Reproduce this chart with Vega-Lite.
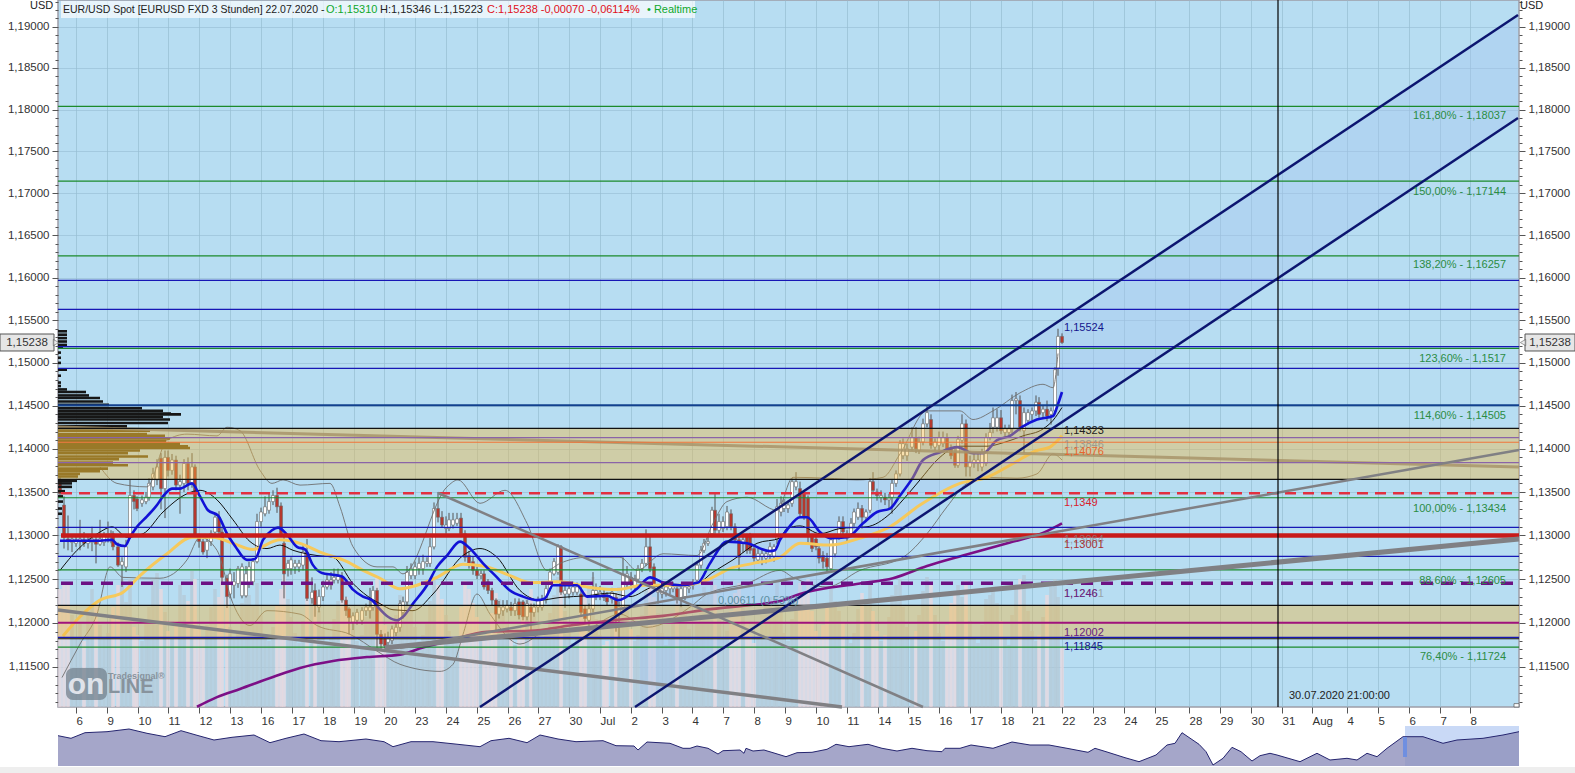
{"$schema":"https://vega.github.io/schema/vega-lite/v6.json","width":1461,"height":707,"autosize":"none","padding":{"left":58,"top":0,"right":56,"bottom":66},"background":"#ffffff",
"config":{"view":{"fill":"#b7ddf2","stroke":"#9d9da8","strokeWidth":1.5},"axis":{"labelFont":"Liberation Sans","labelFontSize":11.5,"labelColor":"#333333","tickColor":"#555555","domainColor":"#9d9da8","title":null},"text":{"font":"Liberation Sans","fontSize":11}},
"datasets":{
"candles":[
{"x":60,"o":1.1364,"h":1.1368,"l":1.1345,"c":1.1348,"v":118},{"x":64,"o":1.1335,"h":1.1345,"l":1.1285,"c":1.1298,"v":124},{"x":68,"o":1.1296,"h":1.1323,"l":1.1283,"c":1.1293,"v":122},{"x":72,"o":1.1292,"h":1.1298,"l":1.1281,"c":1.1296,"v":92},{"x":76,"o":1.1291,"h":1.13,"l":1.1287,"c":1.1295,"v":70},{"x":80,"o":1.1293,"h":1.1318,"l":1.1283,"c":1.1296,"v":85},{"x":84,"o":1.1295,"h":1.1304,"l":1.1287,"c":1.1291,"v":66},{"x":88,"o":1.1291,"h":1.13,"l":1.1285,"c":1.1295,"v":96},{"x":92,"o":1.1292,"h":1.131,"l":1.1282,"c":1.1296,"v":118},{"x":96,"o":1.1295,"h":1.13,"l":1.1268,"c":1.129,"v":104},{"x":100,"o":1.129,"h":1.1318,"l":1.1288,"c":1.1296,"v":82},{"x":104,"o":1.1292,"h":1.1304,"l":1.1288,"c":1.13,"v":68},{"x":108,"o":1.1298,"h":1.1316,"l":1.1292,"c":1.1302,"v":74},{"x":111,"o":1.13,"h":1.1306,"l":1.1291,"c":1.1302,"v":90},
{"x":113,"o":1.1302,"h":1.1305,"l":1.1283,"c":1.1287,"v":100},{"x":118,"o":1.1287,"h":1.1292,"l":1.1264,"c":1.1266,"v":122},{"x":122,"o":1.1266,"h":1.1275,"l":1.1241,"c":1.127,"v":128},{"x":126,"o":1.1264,"h":1.1295,"l":1.1258,"c":1.1287,"v":105},{"x":130,"o":1.1298,"h":1.1364,"l":1.1296,"c":1.1346,"v":128},{"x":134,"o":1.1346,"h":1.1352,"l":1.133,"c":1.1339,"v":80},{"x":137,"o":1.1342,"h":1.1345,"l":1.1328,"c":1.1331,"v":72},{"x":142,"o":1.1337,"h":1.1346,"l":1.1333,"c":1.1341,"v":66},{"x":146,"o":1.1339,"h":1.135,"l":1.1336,"c":1.1344,"v":84},{"x":149,"o":1.1344,"h":1.1366,"l":1.134,"c":1.136,"v":100},{"x":153,"o":1.1356,"h":1.1378,"l":1.1352,"c":1.1371,"v":128},{"x":157,"o":1.1364,"h":1.1388,"l":1.1358,"c":1.1379,"v":134},{"x":161,"o":1.1389,"h":1.1395,"l":1.133,"c":1.1354,"v":118},{"x":165,"o":1.1354,"h":1.1398,"l":1.132,"c":1.139,"v":95},{"x":168,"o":1.139,"h":1.1398,"l":1.1368,"c":1.1375,"v":76},{"x":172,"o":1.1375,"h":1.1394,"l":1.137,"c":1.1387,"v":68},{"x":176,"o":1.1387,"h":1.1392,"l":1.1352,"c":1.1358,"v":86},{"x":180,"o":1.1358,"h":1.137,"l":1.1325,"c":1.1362,"v":122},{"x":184,"o":1.136,"h":1.1388,"l":1.135,"c":1.1383,"v":112},{"x":188,"o":1.1383,"h":1.139,"l":1.1352,"c":1.136,"v":106},{"x":192,"o":1.136,"h":1.1395,"l":1.1355,"c":1.1379,"v":136},{"x":195,"o":1.1379,"h":1.1382,"l":1.1298,"c":1.13,"v":128},{"x":199,"o":1.1298,"h":1.1302,"l":1.1286,"c":1.1293,"v":78},{"x":203,"o":1.1293,"h":1.1296,"l":1.1278,"c":1.1281,"v":70},{"x":207,"o":1.1283,"h":1.1296,"l":1.1274,"c":1.1293,"v":82},{"x":211,"o":1.1293,"h":1.1306,"l":1.1288,"c":1.1302,"v":100},{"x":215,"o":1.1304,"h":1.1325,"l":1.1302,"c":1.1321,"v":118},{"x":219,"o":1.1321,"h":1.1328,"l":1.13,"c":1.1304,"v":110},{"x":222,"o":1.1304,"h":1.131,"l":1.1246,"c":1.1252,"v":130},{"x":227,"o":1.1251,"h":1.1255,"l":1.1217,"c":1.123,"v":126},{"x":230,"o":1.1233,"h":1.1262,"l":1.1228,"c":1.1256,"v":80},{"x":234,"o":1.1243,"h":1.1258,"l":1.1228,"c":1.1247,"v":68},{"x":238,"o":1.1245,"h":1.1265,"l":1.124,"c":1.1262,"v":74},{"x":242,"o":1.1231,"h":1.1268,"l":1.1228,"c":1.1264,"v":104},{"x":246,"o":1.1231,"h":1.1265,"l":1.1229,"c":1.1256,"v":120},{"x":249,"o":1.1245,"h":1.127,"l":1.124,"c":1.1264,"v":112},{"x":253,"o":1.1247,"h":1.1274,"l":1.1243,"c":1.127,"v":102},{"x":257,"o":1.127,"h":1.1325,"l":1.1268,"c":1.1316,"v":124},{"x":261,"o":1.1316,"h":1.1332,"l":1.131,"c":1.1327,"v":92},{"x":265,"o":1.1325,"h":1.1345,"l":1.1322,"c":1.1333,"v":72},{"x":269,"o":1.1329,"h":1.1348,"l":1.1325,"c":1.1339,"v":66},{"x":273,"o":1.1339,"h":1.1352,"l":1.1335,"c":1.1346,"v":80},{"x":277,"o":1.1346,"h":1.1355,"l":1.1326,"c":1.1333,"v":102},{"x":281,"o":1.1334,"h":1.1338,"l":1.13,"c":1.1302,"v":118},{"x":284,"o":1.1291,"h":1.13,"l":1.1228,"c":1.1256,"v":132},{"x":288,"o":1.1262,"h":1.1272,"l":1.1253,"c":1.1268,"v":108},{"x":291,"o":1.1262,"h":1.1275,"l":1.1255,"c":1.1272,"v":90},{"x":295,"o":1.1264,"h":1.1272,"l":1.1256,"c":1.1268,"v":74},{"x":299,"o":1.1264,"h":1.1272,"l":1.1258,"c":1.1268,"v":64},{"x":303,"o":1.1266,"h":1.129,"l":1.126,"c":1.1281,"v":86},{"x":307,"o":1.1281,"h":1.1296,"l":1.1225,"c":1.1228,"v":126},{"x":312,"o":1.1228,"h":1.1252,"l":1.1222,"c":1.1235,"v":112},{"x":315,"o":1.1237,"h":1.1245,"l":1.1207,"c":1.122,"v":104},{"x":319,"o":1.1218,"h":1.1238,"l":1.1212,"c":1.123,"v":96},{"x":323,"o":1.123,"h":1.1248,"l":1.1225,"c":1.1241,"v":78},{"x":327,"o":1.1241,"h":1.1255,"l":1.1238,"c":1.1249,"v":66},{"x":331,"o":1.1243,"h":1.1258,"l":1.1238,"c":1.1249,"v":70},{"x":334,"o":1.1249,"h":1.1262,"l":1.1245,"c":1.1252,"v":88},{"x":338,"o":1.1249,"h":1.1262,"l":1.1245,"c":1.1253,"v":106},{"x":342,"o":1.1253,"h":1.1258,"l":1.1223,"c":1.1226,"v":124},{"x":346,"o":1.1226,"h":1.123,"l":1.1208,"c":1.1214,"v":110},{"x":349,"o":1.1216,"h":1.1218,"l":1.1187,"c":1.1206,"v":100},{"x":353,"o":1.1201,"h":1.1212,"l":1.1192,"c":1.1208,"v":78},{"x":357,"o":1.1203,"h":1.1216,"l":1.1198,"c":1.1212,"v":66},{"x":362,"o":1.1203,"h":1.1218,"l":1.1198,"c":1.1214,"v":72},{"x":366,"o":1.1214,"h":1.1222,"l":1.1208,"c":1.1218,"v":90},{"x":370,"o":1.1214,"h":1.124,"l":1.1205,"c":1.1218,"v":110},{"x":373,"o":1.1218,"h":1.1242,"l":1.1214,"c":1.1237,"v":116},{"x":377,"o":1.1237,"h":1.124,"l":1.117,"c":1.1187,"v":130},{"x":381,"o":1.1187,"h":1.1192,"l":1.117,"c":1.1176,"v":104},{"x":385,"o":1.1182,"h":1.1188,"l":1.117,"c":1.1174,"v":82},{"x":388,"o":1.1178,"h":1.119,"l":1.1172,"c":1.1182,"v":68},{"x":392,"o":1.118,"h":1.1197,"l":1.1176,"c":1.1193,"v":74},{"x":396,"o":1.1189,"h":1.12,"l":1.1185,"c":1.1195,"v":92},{"x":400,"o":1.1195,"h":1.1226,"l":1.119,"c":1.1222,"v":112},
{"x":403,"o":1.1212,"h":1.123,"l":1.1205,"c":1.1224,"v":106},{"x":407,"o":1.1224,"h":1.1265,"l":1.122,"c":1.1258,"v":120},{"x":411,"o":1.1254,"h":1.1268,"l":1.125,"c":1.1262,"v":96},{"x":415,"o":1.1254,"h":1.127,"l":1.125,"c":1.1264,"v":80},{"x":419,"o":1.1262,"h":1.1275,"l":1.1255,"c":1.1268,"v":66},{"x":423,"o":1.1262,"h":1.1278,"l":1.1255,"c":1.127,"v":72},{"x":427,"o":1.1268,"h":1.1275,"l":1.1264,"c":1.127,"v":84},{"x":430,"o":1.1268,"h":1.1297,"l":1.1264,"c":1.1287,"v":106},{"x":434,"o":1.1287,"h":1.1338,"l":1.1284,"c":1.1331,"v":130},{"x":438,"o":1.1331,"h":1.135,"l":1.1315,"c":1.1321,"v":122},{"x":442,"o":1.1321,"h":1.1328,"l":1.1309,"c":1.1312,"v":108},{"x":446,"o":1.1308,"h":1.1322,"l":1.1302,"c":1.1312,"v":92},{"x":449,"o":1.1308,"h":1.1326,"l":1.1305,"c":1.1318,"v":76},{"x":453,"o":1.1312,"h":1.1326,"l":1.1308,"c":1.1318,"v":64},{"x":457,"o":1.1314,"h":1.1326,"l":1.1311,"c":1.1319,"v":70},{"x":461,"o":1.132,"h":1.1326,"l":1.1298,"c":1.1302,"v":100},{"x":465,"o":1.1302,"h":1.1306,"l":1.127,"c":1.1275,"v":126},{"x":469,"o":1.1277,"h":1.1282,"l":1.1262,"c":1.1268,"v":118},{"x":473,"o":1.127,"h":1.1276,"l":1.1255,"c":1.126,"v":104},{"x":477,"o":1.126,"h":1.1264,"l":1.125,"c":1.1254,"v":90},{"x":481,"o":1.1254,"h":1.126,"l":1.125,"c":1.1256,"v":72},{"x":484,"o":1.1256,"h":1.126,"l":1.1238,"c":1.1241,"v":66},{"x":488,"o":1.1247,"h":1.125,"l":1.1233,"c":1.1237,"v":74},{"x":492,"o":1.1237,"h":1.124,"l":1.122,"c":1.1226,"v":94},{"x":496,"o":1.1226,"h":1.1228,"l":1.119,"c":1.121,"v":114},{"x":499,"o":1.121,"h":1.1225,"l":1.1205,"c":1.1218,"v":108},{"x":503,"o":1.1214,"h":1.1226,"l":1.1208,"c":1.1218,"v":96},{"x":507,"o":1.1216,"h":1.1226,"l":1.1212,"c":1.122,"v":84},{"x":511,"o":1.1218,"h":1.1224,"l":1.1208,"c":1.1214,"v":68},{"x":515,"o":1.1214,"h":1.1228,"l":1.1208,"c":1.1222,"v":62},{"x":519,"o":1.1224,"h":1.1228,"l":1.1204,"c":1.1209,"v":72},{"x":523,"o":1.1224,"h":1.1226,"l":1.1203,"c":1.1207,"v":92},{"x":527,"o":1.1207,"h":1.1226,"l":1.1203,"c":1.1222,"v":108},{"x":531,"o":1.1218,"h":1.1222,"l":1.119,"c":1.1212,"v":118},{"x":534,"o":1.1212,"h":1.1222,"l":1.1207,"c":1.1218,"v":100},{"x":538,"o":1.1218,"h":1.123,"l":1.1212,"c":1.1226,"v":86},{"x":542,"o":1.1218,"h":1.1232,"l":1.1214,"c":1.1226,"v":70},{"x":546,"o":1.1226,"h":1.1243,"l":1.1222,"c":1.1239,"v":76},{"x":550,"o":1.1239,"h":1.1262,"l":1.1236,"c":1.1258,"v":94},{"x":554,"o":1.1256,"h":1.1274,"l":1.1254,"c":1.127,"v":112},{"x":558,"o":1.1258,"h":1.129,"l":1.1255,"c":1.1287,"v":130},{"x":561,"o":1.1287,"h":1.1289,"l":1.1232,"c":1.1235,"v":126},{"x":565,"o":1.1233,"h":1.1245,"l":1.1217,"c":1.1237,"v":96},{"x":569,"o":1.1233,"h":1.1245,"l":1.1228,"c":1.1239,"v":76},{"x":573,"o":1.1235,"h":1.1247,"l":1.1231,"c":1.1241,"v":64},{"x":577,"o":1.1235,"h":1.1246,"l":1.1232,"c":1.1241,"v":70},{"x":581,"o":1.1233,"h":1.1242,"l":1.1209,"c":1.1212,"v":108},{"x":585,"o":1.1216,"h":1.122,"l":1.1199,"c":1.1205,"v":116},{"x":589,"o":1.1203,"h":1.1222,"l":1.119,"c":1.1216,"v":122},{"x":593,"o":1.1216,"h":1.1258,"l":1.1212,"c":1.1237,"v":130},{"x":596,"o":1.1233,"h":1.1245,"l":1.1226,"c":1.1237,"v":88},{"x":600,"o":1.1231,"h":1.1242,"l":1.1226,"c":1.1235,"v":72},{"x":604,"o":1.1233,"h":1.1238,"l":1.1225,"c":1.1229,"v":62},{"x":607,"o":1.1229,"h":1.1235,"l":1.122,"c":1.1224,"v":66},{"x":612,"o":1.1227,"h":1.124,"l":1.1222,"c":1.1235,"v":90},{"x":616,"o":1.1229,"h":1.1234,"l":1.119,"c":1.1209,"v":114},{"x":619,"o":1.1211,"h":1.1224,"l":1.1184,"c":1.1218,"v":120},{"x":623,"o":1.1218,"h":1.1275,"l":1.1215,"c":1.1256,"v":128},{"x":627,"o":1.1245,"h":1.1265,"l":1.124,"c":1.1256,"v":96},{"x":631,"o":1.1252,"h":1.1258,"l":1.1238,"c":1.1245,"v":78},{"x":635,"o":1.1241,"h":1.1255,"l":1.1236,"c":1.125,"v":66},{"x":638,"o":1.125,"h":1.1266,"l":1.1246,"c":1.1262,"v":72},{"x":642,"o":1.1262,"h":1.1273,"l":1.1258,"c":1.1268,"v":92},{"x":646,"o":1.1268,"h":1.1307,"l":1.1265,"c":1.1287,"v":118},{"x":650,"o":1.1287,"h":1.13,"l":1.1258,"c":1.1262,"v":124},{"x":654,"o":1.1264,"h":1.1268,"l":1.1238,"c":1.1243,"v":110},{"x":658,"o":1.1235,"h":1.1243,"l":1.1222,"c":1.1239,"v":94},{"x":662,"o":1.1233,"h":1.1244,"l":1.1228,"c":1.1239,"v":74},{"x":666,"o":1.1237,"h":1.1245,"l":1.123,"c":1.1241,"v":62},{"x":670,"o":1.1239,"h":1.1247,"l":1.1233,"c":1.1243,"v":68},{"x":673,"o":1.1239,"h":1.1247,"l":1.1235,"c":1.1241,"v":86},{"x":677,"o":1.1239,"h":1.1243,"l":1.1222,"c":1.1227,"v":108},{"x":681,"o":1.1227,"h":1.1243,"l":1.1218,"c":1.1239,"v":112},{"x":685,"o":1.123,"h":1.1245,"l":1.1226,"c":1.1241,"v":98},{"x":689,"o":1.1239,"h":1.1246,"l":1.1234,"c":1.1241,"v":78},{"x":693,"o":1.1243,"h":1.125,"l":1.1238,"c":1.1245,"v":66},{"x":697,"o":1.1249,"h":1.127,"l":1.1245,"c":1.1266,"v":84},{"x":701,"o":1.1266,"h":1.1288,"l":1.1262,"c":1.1283,"v":106},{"x":704,"o":1.1283,"h":1.1296,"l":1.128,"c":1.1291,"v":120},{"x":708,"o":1.1291,"h":1.13,"l":1.1288,"c":1.1293,"v":112},{"x":712,"o":1.1302,"h":1.1333,"l":1.1298,"c":1.1329,"v":128},{"x":715,"o":1.1329,"h":1.1348,"l":1.1302,"c":1.1306,"v":122},{"x":719,"o":1.1306,"h":1.1325,"l":1.1302,"c":1.1316,"v":88},{"x":723,"o":1.1308,"h":1.1322,"l":1.1304,"c":1.1316,"v":70},{"x":727,"o":1.131,"h":1.1334,"l":1.1306,"c":1.1327,"v":76},{"x":731,"o":1.1325,"h":1.133,"l":1.1306,"c":1.131,"v":96},{"x":735,"o":1.131,"h":1.1314,"l":1.1292,"c":1.1295,"v":114},{"x":739,"o":1.1295,"h":1.13,"l":1.126,"c":1.1275,"v":124},{"x":743,"o":1.1291,"h":1.13,"l":1.128,"c":1.1295,"v":100},{"x":747,"o":1.1299,"h":1.1302,"l":1.1279,"c":1.1283,"v":86},{"x":750,"o":1.1299,"h":1.1303,"l":1.1279,"c":1.1283,"v":72},{"x":754,"o":1.1285,"h":1.1288,"l":1.127,"c":1.1274,"v":64},{"x":758,"o":1.1272,"h":1.1285,"l":1.1268,"c":1.1279,"v":70},{"x":762,"o":1.1276,"h":1.1285,"l":1.1266,"c":1.1279,"v":92},{"x":766,"o":1.1274,"h":1.1284,"l":1.1268,"c":1.1279,"v":104},{"x":770,"o":1.1278,"h":1.1292,"l":1.1272,"c":1.1287,"v":110},{"x":774,"o":1.1276,"h":1.129,"l":1.127,"c":1.1287,"v":96},{"x":777,"o":1.1296,"h":1.1342,"l":1.129,"c":1.1333,"v":126},
{"x":781,"o":1.1327,"h":1.1345,"l":1.1322,"c":1.1337,"v":98},{"x":784,"o":1.1331,"h":1.1342,"l":1.1327,"c":1.1335,"v":74},{"x":788,"o":1.1331,"h":1.134,"l":1.1326,"c":1.1335,"v":66},{"x":792,"o":1.1337,"h":1.1366,"l":1.1333,"c":1.1362,"v":88},{"x":796,"o":1.1356,"h":1.1373,"l":1.1352,"c":1.1362,"v":110},{"x":800,"o":1.1354,"h":1.1362,"l":1.132,"c":1.1325,"v":124},{"x":804,"o":1.1348,"h":1.1352,"l":1.1318,"c":1.1321,"v":112},{"x":808,"o":1.1343,"h":1.1346,"l":1.129,"c":1.1302,"v":128},{"x":812,"o":1.1298,"h":1.1302,"l":1.1281,"c":1.1285,"v":96},{"x":816,"o":1.1296,"h":1.13,"l":1.1283,"c":1.1287,"v":76},{"x":819,"o":1.1285,"h":1.1289,"l":1.1268,"c":1.1274,"v":68},{"x":823,"o":1.1277,"h":1.1282,"l":1.1262,"c":1.127,"v":82},{"x":827,"o":1.1274,"h":1.128,"l":1.1258,"c":1.1264,"v":104},{"x":831,"o":1.1262,"h":1.1298,"l":1.1258,"c":1.1295,"v":118},{"x":835,"o":1.1279,"h":1.1302,"l":1.1275,"c":1.1298,"v":106},{"x":839,"o":1.1298,"h":1.1322,"l":1.1295,"c":1.1316,"v":96},{"x":843,"o":1.1316,"h":1.1322,"l":1.13,"c":1.1304,"v":84},{"x":847,"o":1.1297,"h":1.1306,"l":1.1292,"c":1.1302,"v":68},{"x":851,"o":1.1302,"h":1.132,"l":1.1298,"c":1.1314,"v":64},{"x":854,"o":1.1314,"h":1.1331,"l":1.131,"c":1.1327,"v":74},{"x":858,"o":1.1321,"h":1.1338,"l":1.1318,"c":1.1331,"v":98},{"x":862,"o":1.1331,"h":1.1335,"l":1.1308,"c":1.1321,"v":114},{"x":866,"o":1.1321,"h":1.133,"l":1.1316,"c":1.1327,"v":104},{"x":870,"o":1.1329,"h":1.1366,"l":1.1326,"c":1.1362,"v":126},{"x":873,"o":1.1362,"h":1.1373,"l":1.1348,"c":1.1352,"v":96},{"x":877,"o":1.135,"h":1.1354,"l":1.134,"c":1.1346,"v":76},{"x":881,"o":1.1344,"h":1.1352,"l":1.1338,"c":1.1346,"v":66},{"x":885,"o":1.1344,"h":1.1349,"l":1.1335,"c":1.1341,"v":72},{"x":889,"o":1.1341,"h":1.1348,"l":1.133,"c":1.1343,"v":90},{"x":892,"o":1.1344,"h":1.1364,"l":1.1325,"c":1.136,"v":112},{"x":896,"o":1.136,"h":1.1375,"l":1.1356,"c":1.1371,"v":122},{"x":900,"o":1.1371,"h":1.141,"l":1.1368,"c":1.1406,"v":128},{"x":903,"o":1.1392,"h":1.1412,"l":1.1388,"c":1.1406,"v":100},{"x":907,"o":1.1392,"h":1.1406,"l":1.1386,"c":1.14,"v":80},{"x":912,"o":1.1402,"h":1.1425,"l":1.1398,"c":1.1413,"v":68},{"x":916,"o":1.1413,"h":1.1425,"l":1.1395,"c":1.14,"v":76},{"x":919,"o":1.1398,"h":1.1414,"l":1.1394,"c":1.1408,"v":92},{"x":923,"o":1.1408,"h":1.1435,"l":1.1404,"c":1.1429,"v":116},{"x":927,"o":1.1429,"h":1.145,"l":1.1425,"c":1.1442,"v":130},{"x":931,"o":1.1434,"h":1.144,"l":1.14,"c":1.1404,"v":124},{"x":935,"o":1.1402,"h":1.1412,"l":1.1398,"c":1.1408,"v":92},{"x":939,"o":1.1404,"h":1.142,"l":1.1398,"c":1.1413,"v":74},{"x":943,"o":1.1406,"h":1.142,"l":1.1402,"c":1.1413,"v":66},{"x":947,"o":1.1413,"h":1.1418,"l":1.1396,"c":1.14,"v":82},{"x":951,"o":1.14,"h":1.1405,"l":1.1388,"c":1.1392,"v":104},{"x":955,"o":1.1396,"h":1.1402,"l":1.1378,"c":1.1381,"v":116},{"x":958,"o":1.1381,"h":1.1415,"l":1.1378,"c":1.1411,"v":122},{"x":962,"o":1.141,"h":1.144,"l":1.1406,"c":1.1429,"v":110},{"x":966,"o":1.1429,"h":1.1434,"l":1.1368,"c":1.1379,"v":126},{"x":970,"o":1.1379,"h":1.1392,"l":1.1368,"c":1.1385,"v":86},{"x":974,"o":1.1383,"h":1.1394,"l":1.1378,"c":1.1387,"v":70},{"x":978,"o":1.1383,"h":1.1394,"l":1.1374,"c":1.1387,"v":64},{"x":982,"o":1.1379,"h":1.14,"l":1.1374,"c":1.1396,"v":82},{"x":986,"o":1.1383,"h":1.1418,"l":1.138,"c":1.1413,"v":108},{"x":990,"o":1.1413,"h":1.143,"l":1.141,"c":1.1419,"v":112},{"x":993,"o":1.1425,"h":1.1448,"l":1.1418,"c":1.1436,"v":120},{"x":997,"o":1.1425,"h":1.1446,"l":1.142,"c":1.1436,"v":104},{"x":1001,"o":1.1436,"h":1.1445,"l":1.1417,"c":1.1421,"v":86},{"x":1005,"o":1.1419,"h":1.1428,"l":1.1414,"c":1.1423,"v":70},{"x":1009,"o":1.1419,"h":1.1428,"l":1.1414,"c":1.1423,"v":62},{"x":1012,"o":1.1423,"h":1.1463,"l":1.1418,"c":1.1456,"v":92},{"x":1016,"o":1.1456,"h":1.1466,"l":1.144,"c":1.1458,"v":118},{"x":1020,"o":1.1456,"h":1.1462,"l":1.142,"c":1.1425,"v":128},{"x":1024,"o":1.1421,"h":1.1448,"l":1.1395,"c":1.1442,"v":132},{"x":1028,"o":1.1433,"h":1.1446,"l":1.1428,"c":1.1442,"v":96},{"x":1032,"o":1.144,"h":1.1448,"l":1.1433,"c":1.1444,"v":76},{"x":1036,"o":1.1444,"h":1.1462,"l":1.1438,"c":1.1454,"v":66},{"x":1039,"o":1.1454,"h":1.146,"l":1.1436,"c":1.144,"v":72},{"x":1043,"o":1.1442,"h":1.145,"l":1.1436,"c":1.1446,"v":90},{"x":1047,"o":1.1446,"h":1.1456,"l":1.1432,"c":1.1438,"v":112},{"x":1051,"o":1.144,"h":1.1448,"l":1.1428,"c":1.1444,"v":120},{"x":1055,"o":1.1444,"h":1.1495,"l":1.144,"c":1.1492,"v":128},{"x":1058,"o":1.1494,"h":1.154,"l":1.1485,"c":1.1531,"v":110},{"x":1062,"o":1.1531,"h":1.15346,"l":1.15223,"c":1.15238,"v":60}],
"levels":[{"x":58,"x2":1519,"p":1.18037,"k":"fib"},{"x":58,"x2":1519,"p":1.17144,"k":"fib"},{"x":58,"x2":1519,"p":1.16257,"k":"fib"},{"x":58,"x2":1519,"p":1.1517,"k":"fib"},{"x":58,"x2":1519,"p":1.13434,"k":"fib"},{"x":58,"x2":1519,"p":1.12605,"k":"fib"},{"x":58,"x2":1519,"p":1.11724,"k":"fib"},
{"x":58,"x2":1519,"p":1.15969,"k":"blue"},{"x":58,"x2":1519,"p":1.15628,"k":"blue"},{"x":58,"x2":1519,"p":1.15189,"k":"blue"},{"x":58,"x2":1519,"p":1.14936,"k":"blue"},{"x":58,"x2":1519,"p":1.13094,"k":"blue"},{"x":58,"x2":1519,"p":1.12761,"k":"blue"},{"x":58,"x2":1519,"p":1.11836,"k":"blue"},
{"x":58,"x2":1519,"p":1.14505,"k":"navy"},
{"x":58,"x2":1519,"p":1.14238,"k":"black"},{"x":58,"x2":1519,"p":1.13646,"k":"black"},{"x":58,"x2":1519,"p":1.12201,"k":"black"},{"x":58,"x2":1519,"p":1.1182,"k":"black"},
{"x":58,"x2":1519,"p":1.1413,"k":"violet"},{"x":58,"x2":1519,"p":1.13841,"k":"violet"},
{"x":58,"x2":1519,"p":1.14076,"k":"orange"},
{"x":58,"x2":1519,"p":1.12002,"k":"magenta"},
{"x":61,"x2":1519,"p":1.13001,"k":"redthick"},
{"x":61,"x2":1519,"p":1.13485,"k":"reddash"},
{"x":61,"x2":1519,"p":1.12452,"k":"purpledash"}],
"bands":[{"x":58,"x2":1519,"p":1.14238,"p2":1.13646},{"x":58,"x2":1519,"p":1.12201,"p2":1.1182}],
"channel":[{"x":640,"p":1.12262,"p2":1.11084},{"x":1518,"p":1.19139,"p2":1.17898}],
"chlines":[{"s":"up","x":480,"p":1.11047},{"s":"up","x":1518,"p":1.19139},{"s":"lo","x":635,"p":1.11047},{"s":"lo","x":1518,"p":1.17898}],
"trend":[{"s":"g1","x":385,"p":1.11717},{"s":"g1","x":1519,"p":1.1296},{"s":"g2","x":400,"p":1.11717},{"s":"g2","x":1519,"p":1.13985},{"s":"g3","x":58,"p":1.12147},{"s":"g3","x":842,"p":1.11047},{"s":"g4","x":438,"p":1.13489},{"s":"g4","x":923,"p":1.11047},{"s":"g5","x":58,"p":1.14252},{"s":"g5","x":1519,"p":1.13788}],
"ma":[
{"s":"b","x":60,"p":1.1294},{"s":"b","x":80,"p":1.1294},{"s":"b","x":100,"p":1.1294},{"s":"b","x":112,"p":1.1295},{"s":"b","x":117,"p":1.129},{"s":"b","x":125,"p":1.1288},{"s":"b","x":130,"p":1.1298},{"s":"b","x":137,"p":1.131},{"s":"b","x":147,"p":1.1322},{"s":"b","x":157,"p":1.1335},{"s":"b","x":163,"p":1.1345},{"s":"b","x":172,"p":1.1354},{"s":"b","x":180,"p":1.1354},{"s":"b","x":192,"p":1.136},{"s":"b","x":200,"p":1.1345},{"s":"b","x":208,"p":1.1329},{"s":"b","x":218,"p":1.1323},{"s":"b","x":227,"p":1.1302},{"s":"b","x":235,"p":1.1288},{"s":"b","x":247,"p":1.1272},{"s":"b","x":255,"p":1.1273},{"s":"b","x":263,"p":1.1295},{"s":"b","x":272,"p":1.1306},{"s":"b","x":278,"p":1.1309},{"s":"b","x":287,"p":1.1301},{"s":"b","x":297,"p":1.1287},{"s":"b","x":305,"p":1.1284},{"s":"b","x":313,"p":1.1266},{"s":"b","x":322,"p":1.1257},{"s":"b","x":333,"p":1.1255},{"s":"b","x":342,"p":1.1253},{"s":"b","x":353,"p":1.1238},{"s":"b","x":363,"p":1.123},{"s":"b","x":372,"p":1.1226},{"s":"b","x":378,"p":1.1218},{"s":"b","x":388,"p":1.1207},{"s":"b","x":397,"p":1.1203},{"s":"b","x":403,"p":1.1207},{"s":"b","x":413,"p":1.1222},{"s":"b","x":427,"p":1.1243},{"s":"b","x":437,"p":1.1264},{"s":"b","x":447,"p":1.1277},{"s":"b","x":460,"p":1.1293},{"s":"b","x":470,"p":1.1285},{"s":"b","x":483,"p":1.1268},{"s":"b","x":497,"p":1.1252},{"s":"b","x":510,"p":1.1237},{"s":"b","x":523,"p":1.123},{"s":"b","x":537,"p":1.1226},{"s":"b","x":545,"p":1.1228},{"s":"b","x":553,"p":1.1243},{"s":"b","x":577,"p":1.1243},{"s":"b","x":587,"p":1.123},{"s":"b","x":607,"p":1.1231},{"s":"b","x":618,"p":1.1226},{"s":"b","x":637,"p":1.1239},{"s":"b","x":650,"p":1.1252},{"s":"b","x":663,"p":1.1246},{"s":"b","x":680,"p":1.1243},{"s":"b","x":698,"p":1.1246},{"s":"b","x":710,"p":1.1268},{"s":"b","x":727,"p":1.1293},{"s":"b","x":747,"p":1.1291},{"s":"b","x":770,"p":1.1282},{"s":"b","x":775,"p":1.1283},{"s":"b","x":780,"p":1.1295},{"s":"b","x":788,"p":1.1308},{"s":"b","x":800,"p":1.1321},{"s":"b","x":807,"p":1.1321},{"s":"b","x":820,"p":1.1304},{"s":"b","x":830,"p":1.1297},{"s":"b","x":847,"p":1.1298},{"s":"b","x":863,"p":1.1314},{"s":"b","x":877,"p":1.1327},{"s":"b","x":890,"p":1.1331},{"s":"b","x":900,"p":1.1346},{"s":"b","x":913,"p":1.1367},{"s":"b","x":923,"p":1.1387},{"s":"b","x":940,"p":1.1396},{"s":"b","x":957,"p":1.1402},{"s":"b","x":973,"p":1.1395},{"s":"b","x":983,"p":1.1395},{"s":"b","x":997,"p":1.141},{"s":"b","x":1010,"p":1.1415},{"s":"b","x":1023,"p":1.1426},{"s":"b","x":1037,"p":1.1434},{"s":"b","x":1053,"p":1.1438},{"s":"b","x":1058,"p":1.1452},{"s":"b","x":1062,"p":1.1466},
{"s":"k","x":60,"p":1.126},{"s":"k","x":77,"p":1.1283},{"s":"k","x":100,"p":1.1304},{"s":"k","x":112,"p":1.131},{"s":"k","x":127,"p":1.1298},{"s":"k","x":143,"p":1.1302},{"s":"k","x":163,"p":1.1327},{"s":"k","x":187,"p":1.1348},{"s":"k","x":200,"p":1.1352},{"s":"k","x":217,"p":1.1341},{"s":"k","x":233,"p":1.1318},{"s":"k","x":250,"p":1.1293},{"s":"k","x":267,"p":1.1285},{"s":"k","x":280,"p":1.1289},{"s":"k","x":293,"p":1.1283},{"s":"k","x":317,"p":1.1277},{"s":"k","x":333,"p":1.1275},{"s":"k","x":353,"p":1.1245},{"s":"k","x":367,"p":1.1231},{"s":"k","x":380,"p":1.1222},{"s":"k","x":393,"p":1.1215},{"s":"k","x":413,"p":1.1214},{"s":"k","x":433,"p":1.1233},{"s":"k","x":463,"p":1.1277},{"s":"k","x":480,"p":1.1285},{"s":"k","x":497,"p":1.1275},{"s":"k","x":520,"p":1.1237},{"s":"k","x":540,"p":1.1226},{"s":"k","x":560,"p":1.1229},{"s":"k","x":587,"p":1.1231},{"s":"k","x":610,"p":1.1234},{"s":"k","x":630,"p":1.123},{"s":"k","x":653,"p":1.1241},{"s":"k","x":673,"p":1.1243},{"s":"k","x":697,"p":1.1245},{"s":"k","x":713,"p":1.1258},{"s":"k","x":733,"p":1.1272},{"s":"k","x":757,"p":1.1291},{"s":"k","x":780,"p":1.1297},{"s":"k","x":787,"p":1.1308},{"s":"k","x":800,"p":1.1311},{"s":"k","x":820,"p":1.1302},{"s":"k","x":840,"p":1.1308},{"s":"k","x":867,"p":1.131},{"s":"k","x":890,"p":1.1325},{"s":"k","x":903,"p":1.1341},{"s":"k","x":920,"p":1.1364},{"s":"k","x":937,"p":1.1387},{"s":"k","x":960,"p":1.1403},{"s":"k","x":987,"p":1.1403},{"s":"k","x":1003,"p":1.1407},{"s":"k","x":1023,"p":1.1415},{"s":"k","x":1043,"p":1.1423},{"s":"k","x":1053,"p":1.1433},{"s":"k","x":1062,"p":1.1448},
{"s":"y","x":63,"p":1.1185},{"s":"y","x":80,"p":1.1207},{"s":"y","x":100,"p":1.1226},{"s":"y","x":123,"p":1.1235},{"s":"y","x":140,"p":1.1254},{"s":"y","x":167,"p":1.1279},{"s":"y","x":192,"p":1.1298},{"s":"y","x":213,"p":1.1298},{"s":"y","x":233,"p":1.1291},{"s":"y","x":253,"p":1.1284},{"s":"y","x":280,"p":1.1295},{"s":"y","x":300,"p":1.1291},{"s":"y","x":320,"p":1.1281},{"s":"y","x":347,"p":1.127},{"s":"y","x":363,"p":1.126},{"s":"y","x":380,"p":1.1251},{"s":"y","x":400,"p":1.1239},{"s":"y","x":417,"p":1.1243},{"s":"y","x":437,"p":1.1252},{"s":"y","x":463,"p":1.1267},{"s":"y","x":483,"p":1.1265},{"s":"y","x":510,"p":1.1254},{"s":"y","x":530,"p":1.1246},{"s":"y","x":560,"p":1.1247},{"s":"y","x":587,"p":1.1241},{"s":"y","x":617,"p":1.1238},{"s":"y","x":643,"p":1.1243},{"s":"y","x":680,"p":1.1243},{"s":"y","x":707,"p":1.1249},{"s":"y","x":730,"p":1.1262},{"s":"y","x":753,"p":1.1268},{"s":"y","x":780,"p":1.1275},{"s":"y","x":800,"p":1.1291},{"s":"y","x":830,"p":1.1289},{"s":"y","x":860,"p":1.1297},{"s":"y","x":890,"p":1.131},{"s":"y","x":920,"p":1.1335},{"s":"y","x":960,"p":1.136},{"s":"y","x":987,"p":1.1367},{"s":"y","x":1013,"p":1.1383},{"s":"y","x":1037,"p":1.1398},{"s":"y","x":1050,"p":1.1402},{"s":"y","x":1062,"p":1.1415},
{"s":"u","x":100,"p":1.1379},{"s":"u","x":117,"p":1.136},{"s":"u","x":147,"p":1.1356},{"s":"u","x":167,"p":1.141},{"s":"u","x":187,"p":1.1417},{"s":"u","x":217,"p":1.1415},{"s":"u","x":227,"p":1.1425},{"s":"u","x":240,"p":1.1421},{"s":"u","x":260,"p":1.1375},{"s":"u","x":272,"p":1.136},{"s":"u","x":283,"p":1.1364},{"s":"u","x":300,"p":1.1358},{"s":"u","x":330,"p":1.136},{"s":"u","x":340,"p":1.1333},{"s":"u","x":353,"p":1.1287},{"s":"u","x":377,"p":1.1264},{"s":"u","x":393,"p":1.1264},{"s":"u","x":403,"p":1.1256},{"s":"u","x":447,"p":1.1356},{"s":"u","x":458,"p":1.1364},{"s":"u","x":480,"p":1.1337},{"s":"u","x":505,"p":1.1352},{"s":"u","x":527,"p":1.1314},{"s":"u","x":547,"p":1.126},{"s":"u","x":560,"p":1.1268},{"s":"u","x":587,"p":1.1275},{"s":"u","x":620,"p":1.1275},{"s":"u","x":637,"p":1.126},{"s":"u","x":663,"p":1.1279},{"s":"u","x":697,"p":1.1277},{"s":"u","x":713,"p":1.1314},{"s":"u","x":727,"p":1.1339},{"s":"u","x":747,"p":1.1344},{"s":"u","x":777,"p":1.1329},{"s":"u","x":793,"p":1.1367},{"s":"u","x":827,"p":1.1366},{"s":"u","x":857,"p":1.1364},{"s":"u","x":883,"p":1.1367},{"s":"u","x":900,"p":1.1394},{"s":"u","x":927,"p":1.1444},{"s":"u","x":960,"p":1.1444},{"s":"u","x":973,"p":1.1434},{"s":"u","x":993,"p":1.1444},{"s":"u","x":1020,"p":1.1465},{"s":"u","x":1043,"p":1.1475},{"s":"u","x":1053,"p":1.1471},{"s":"u","x":1058,"p":1.1511},
{"s":"l","x":62,"p":1.1138},{"s":"l","x":80,"p":1.1176},{"s":"l","x":97,"p":1.121},{"s":"l","x":110,"p":1.1264},{"s":"l","x":123,"p":1.1252},{"s":"l","x":160,"p":1.1251},{"s":"l","x":187,"p":1.1272},{"s":"l","x":200,"p":1.1298},{"s":"l","x":217,"p":1.1283},{"s":"l","x":233,"p":1.1222},{"s":"l","x":250,"p":1.1197},{"s":"l","x":267,"p":1.1214},{"s":"l","x":300,"p":1.121},{"s":"l","x":317,"p":1.1197},{"s":"l","x":350,"p":1.1187},{"s":"l","x":377,"p":1.1168},{"s":"l","x":400,"p":1.1153},{"s":"l","x":440,"p":1.1145},{"s":"l","x":453,"p":1.1153},{"s":"l","x":463,"p":1.1187},{"s":"l","x":477,"p":1.1233},{"s":"l","x":490,"p":1.121},{"s":"l","x":520,"p":1.1176},{"s":"l","x":553,"p":1.1195},{"s":"l","x":580,"p":1.1191},{"s":"l","x":620,"p":1.121},{"s":"l","x":647,"p":1.1195},{"s":"l","x":690,"p":1.1218},{"s":"l","x":707,"p":1.1233},{"s":"l","x":747,"p":1.1245},{"s":"l","x":780,"p":1.126},{"s":"l","x":793,"p":1.1252},{"s":"l","x":827,"p":1.1241},{"s":"l","x":860,"p":1.126},{"s":"l","x":903,"p":1.1275},{"s":"l","x":927,"p":1.1302},{"s":"l","x":947,"p":1.1333},{"s":"l","x":967,"p":1.136},{"s":"l","x":987,"p":1.1367},{"s":"l","x":1017,"p":1.1366},{"s":"l","x":1037,"p":1.1371},{"s":"l","x":1053,"p":1.1394},{"s":"l","x":1062,"p":1.1387},
{"s":"m","x":197,"p":1.1105},{"s":"m","x":217,"p":1.11159},{"s":"m","x":240,"p":1.11251},{"s":"m","x":273,"p":1.11386},{"s":"m","x":300,"p":1.11488},{"s":"m","x":333,"p":1.11567},{"s":"m","x":367,"p":1.11612},{"s":"m","x":400,"p":1.1164},{"s":"m","x":423,"p":1.1172},{"s":"m","x":447,"p":1.1179},{"s":"m","x":487,"p":1.119},{"s":"m","x":530,"p":1.1191},{"s":"m","x":570,"p":1.1197},{"s":"m","x":613,"p":1.1203},{"s":"m","x":663,"p":1.1208},{"s":"m","x":713,"p":1.1216},{"s":"m","x":747,"p":1.122},{"s":"m","x":780,"p":1.1225},{"s":"m","x":800,"p":1.1233},{"s":"m","x":860,"p":1.1245},{"s":"m","x":893,"p":1.1251},{"s":"m","x":927,"p":1.1265},{"s":"m","x":963,"p":1.1277},{"s":"m","x":1010,"p":1.1292},{"s":"m","x":1043,"p":1.1303},{"s":"m","x":1062,"p":1.1314}],
"profile":[
{"z":"a","x":58,"n":67,"p":1.1537},{"z":"a","x":58,"n":67,"p":1.1533},{"z":"a","x":58,"n":67,"p":1.1529},{"z":"a","x":58,"n":67,"p":1.1525},{"z":"a","x":58,"n":67,"p":1.1521},{"z":"a","x":58,"n":63,"p":1.1518},{"z":"a","x":58,"n":61,"p":1.1512},{"z":"a","x":58,"n":61,"p":1.1506},{"z":"a","x":58,"n":61,"p":1.15},{"z":"a","x":58,"n":67,"p":1.1492},{"z":"a","x":58,"n":61,"p":1.1485},{"z":"a","x":58,"n":61,"p":1.1477},{"z":"a","x":58,"n":61,"p":1.1473},{"z":"a","x":58,"n":67,"p":1.1469},{"z":"a","x":58,"n":86,"p":1.1466},{"z":"a","x":58,"n":89,"p":1.1462},{"z":"a","x":58,"n":100,"p":1.1459},{"z":"a","x":58,"n":103,"p":1.1455},{"z":"a","x":58,"n":109,"p":1.1451},{"z":"a","x":58,"n":142,"p":1.1447},{"z":"a","x":58,"n":163,"p":1.1444},{"z":"a","x":58,"n":171,"p":1.1441},{"z":"a","x":58,"n":181,"p":1.144},{"z":"a","x":58,"n":163,"p":1.1437},{"z":"a","x":58,"n":170,"p":1.1434},{"z":"a","x":58,"n":168,"p":1.143},{"z":"a","x":58,"n":127,"p":1.1426},{"z":"a","x":58,"n":113,"p":1.1424},
{"z":"b","x":58,"n":150,"p":1.1421},{"z":"b","x":58,"n":147,"p":1.1417},{"z":"b","x":58,"n":165,"p":1.1415},{"z":"b","x":58,"n":170,"p":1.1412},{"z":"b","x":58,"n":166,"p":1.1409},{"z":"b","x":58,"n":180,"p":1.1406},{"z":"b","x":58,"n":188,"p":1.1403},{"z":"b","x":58,"n":190,"p":1.1401},{"z":"b","x":58,"n":140,"p":1.1398},{"z":"b","x":58,"n":128,"p":1.1395},{"z":"b","x":58,"n":148,"p":1.1391},{"z":"b","x":58,"n":119,"p":1.1388},{"z":"b","x":58,"n":113,"p":1.1384},{"z":"b","x":58,"n":128,"p":1.1381},{"z":"b","x":58,"n":108,"p":1.1377},{"z":"b","x":58,"n":100,"p":1.1374},{"z":"b","x":58,"n":80,"p":1.1371},{"z":"b","x":58,"n":78,"p":1.1368},
{"z":"a","x":58,"n":77,"p":1.1363},{"z":"a","x":58,"n":72,"p":1.136},{"z":"a","x":58,"n":72,"p":1.1356},{"z":"a","x":58,"n":65,"p":1.1351},{"z":"a","x":58,"n":63,"p":1.1345},{"z":"a","x":58,"n":63,"p":1.1339},{"z":"a","x":58,"n":62,"p":1.1331},{"z":"a","x":58,"n":62,"p":1.1325}],
"notes":[
{"k":"fib","x":1506,"p":1.17922,"t":"161,80% - 1,18037"},{"k":"fib","x":1506,"p":1.17015,"t":"150,00% - 1,17144"},{"k":"fib","x":1506,"p":1.1615,"t":"138,20% - 1,16257"},{"k":"fib","x":1506,"p":1.15051,"t":"123,60% - 1,1517"},{"k":"fib","x":1506,"p":1.1438,"t":"114,60% - 1,14505"},{"k":"fib","x":1506,"p":1.13305,"t":"100,00% - 1,13434"},{"k":"fib","x":1506,"p":1.12484,"t":"88,60% - 1,12605"},{"k":"fib","x":1506,"p":1.11614,"t":"76,40% - 1,11724"},
{"k":"navy","x":1064,"p":1.15407,"t":"1,15524"},{"k":"dark","x":1064,"p":1.14205,"t":"1,14323"},{"k":"faint","x":1064,"p":1.14044,"t":"1,13846"},{"k":"orange","x":1064,"p":1.13961,"t":"1,14076"},{"k":"red","x":1064,"p":1.13372,"t":"1,1349"},{"k":"faint","x":1064,"p":1.12948,"t":"1,13064"},{"k":"brown","x":1064,"p":1.1289,"t":"1,13001"},{"k":"faint","x":1064,"p":1.1233,"t":"1,12461"},{"k":"purple","x":1064,"p":1.1233,"t":"1,1246"},{"k":"purple","x":1064,"p":1.11884,"t":"1,12002"},{"k":"navy","x":1064,"p":1.11727,"t":"1,11845"},
{"k":"teal","x":718,"p":1.12249,"t":"0,00611 (0,53%)"},{"k":"dark","x":1289,"p":1.11171,"t":"30.07.2020 21:00:00"},
{"k":"hdr","x":63,"p":1.192,"t":"EUR/USD Spot [EURUSD FXD 3 Stunden]  22.07.2020 -"},{"k":"hgreen","x":326,"p":1.192,"t":"O:1,15310"},{"k":"dark","x":380,"p":1.192,"t":"H:1,15346"},{"k":"dark","x":434,"p":1.192,"t":"L:1,15223"},{"k":"hred","x":487,"p":1.192,"t":"C:1,15238 -0,00070 -0,06114%"},{"k":"hgreen","x":647,"p":1.192,"t":"• Realtime"},
{"k":"dark","x":30,"p":1.19245,"t":"USD"},{"k":"dark","x":1520,"p":1.19245,"t":"USD"}],
"tags":[{"x":0,"x2":54,"p":1.15338,"p2":1.15139},{"x":1525,"x2":1575,"p":1.15338,"p2":1.15139}],
"nav":[{"x":58,"v":30.3},{"x":71,"v":27.7},{"x":85,"v":33.3},{"x":107,"v":34.3},{"x":129,"v":37},{"x":147,"v":32.7},{"x":165,"v":29.3},{"x":181,"v":35.3},{"x":196,"v":31},{"x":214,"v":26},{"x":232,"v":28.7},{"x":254,"v":31},{"x":270,"v":23.3},{"x":286,"v":27.7},{"x":304,"v":32},{"x":321,"v":25.3},{"x":339,"v":24.3},{"x":366,"v":27},{"x":384,"v":24.3},{"x":393,"v":19.3},{"x":411,"v":24.3},{"x":433,"v":24.3},{"x":455,"v":22},{"x":480,"v":19.3},{"x":491,"v":25.3},{"x":509,"v":27.7},{"x":527,"v":23.3},{"x":540,"v":31},{"x":558,"v":27},{"x":576,"v":24.3},{"x":603,"v":25.3},{"x":616,"v":20.3},{"x":634,"v":20},{"x":638,"v":16},{"x":647,"v":24},{"x":670,"v":22.7},{"x":683,"v":17.7},{"x":690,"v":17.7},{"x":697,"v":20},{"x":708,"v":17.7},{"x":718,"v":12},{"x":723,"v":15.3},{"x":740,"v":16},{"x":744,"v":12.7},{"x":746,"v":17.7},{"x":753,"v":15},{"x":764,"v":16},{"x":775,"v":12.7},{"x":786,"v":9.3},{"x":797,"v":13.3},{"x":812,"v":13.7},{"x":827,"v":16.7},{"x":836,"v":21.7},{"x":849,"v":19.3},{"x":868,"v":21.7},{"x":882,"v":17.7},{"x":897,"v":15},{"x":912,"v":17.7},{"x":927,"v":15.3},{"x":942,"v":14.3},{"x":945,"v":17.7},{"x":960,"v":17.7},{"x":971,"v":21},{"x":993,"v":17.7},{"x":1012,"v":24},{"x":1030,"v":21},{"x":1049,"v":21},{"x":1067,"v":17.7},{"x":1088,"v":13.7},{"x":1095,"v":17.7},{"x":1108,"v":13.7},{"x":1125,"v":8.3},{"x":1139,"v":4.3},{"x":1156,"v":11},{"x":1167,"v":21},{"x":1175,"v":22.7},{"x":1182,"v":33.3},{"x":1199,"v":21.7},{"x":1206,"v":14.3},{"x":1213,"v":1},{"x":1223,"v":7.7},{"x":1232,"v":18.7},{"x":1241,"v":14.3},{"x":1252,"v":5},{"x":1260,"v":10.3},{"x":1270,"v":12.7},{"x":1277,"v":11},{"x":1300,"v":4.3},{"x":1317,"v":12.7},{"x":1330,"v":6},{"x":1347,"v":7.7},{"x":1357,"v":6},{"x":1367,"v":12.7},{"x":1377,"v":9.3},{"x":1387,"v":17.7},{"x":1403,"v":29.3},{"x":1423,"v":29.3},{"x":1443,"v":22.7},{"x":1457,"v":26},{"x":1483,"v":27.7},{"x":1503,"v":31},{"x":1519,"v":34.3}]
},
"encoding":{"x":{"field":"x","type":"quantitative","scale":{"domain":[58,1519],"nice":false,"zero":false,"padding":0},"axis":{"orient":"bottom","grid":true,"gridColor":"#96bdd2","gridOpacity":0.7,"values":[76,107,138,168,199,230,261,292,323,354,384,415,446,477,508,538,569,600,631,662,692,723,754,785,816,847,878,908,939,970,1001,1032,1062,1093,1124,1155,1189,1220,1251,1282,1312,1347,1378,1409,1440,1470],"labelExpr":"{'76':'6','107':'9','138':'10','168':'11','199':'12','230':'13','261':'16','292':'17','323':'18','354':'19','384':'20','415':'23','446':'24','477':'25','508':'26','538':'27','569':'30','600':'Jul','631':'2','662':'3','692':'4','723':'7','754':'8','785':'9','816':'10','847':'11','878':'14','908':'15','939':'16','970':'17','1001':'18','1032':'21','1062':'22','1093':'23','1124':'24','1155':'25','1189':'28','1220':'29','1251':'30','1282':'31','1312':'Aug','1347':'4','1378':'5','1409':'6','1440':'7','1470':'8'}[datum.value]","labelAlign":"left","labelBaseline":"top","labelPadding":2,"tickSize":6,"labelOverlap":false,"labelFlush":false,"domain":false}}},
"resolve":{"scale":{"y":"independent"},"axis":{"y":"independent"}},
"layer":[
{"data":{"values":[{"x":58,"p":1.15}]},"mark":{"type":"rule","opacity":0},"encoding":{
"y":{"field":"p","type":"quantitative","scale":{"type":"log","domain":[1.11047,1.19321],"nice":false,"zero":false},"axis":{"orient":"left","grid":true,"gridColor":"#96bdd2","gridOpacity":0.6,"values":[1.115,1.12,1.125,1.13,1.135,1.14,1.145,1.15,1.155,1.16,1.165,1.17,1.175,1.18,1.185,1.19],"labelExpr":"replace(format(datum.value,'.5f'),'.',',')","tickSize":6,"labelPadding":3,"labelOverlap":false,"domain":false}}}},
{"data":{"name":"candles"},"mark":{"type":"bar","size":3.6,"opacity":0.75},"encoding":{"y":{"field":"v","type":"quantitative","stack":null,"scale":{"domain":[0,707],"nice":false},"axis":null},"color":{"condition":{"test":"datum.c>=datum.o","value":"#b4c8d6"},"value":"#ecd8de"}}},
{"encoding":{"y":{"field":"v","type":"quantitative","stack":null,"scale":{"domain":[0,40],"range":[766,726],"nice":false,"zero":false},"axis":null}},"layer":[
{"data":{"values":[{"x":0,"x2":1575,"v":-1,"v2":-7}]},"mark":{"type":"rect","color":"#eeeeee"},"encoding":{"x2":{"field":"x2"},"y2":{"field":"v2"}}},
{"data":{"values":[{"x":1405,"x2":1519,"v":0,"v2":40}]},"mark":{"type":"rect","color":"#c9d9f6"},"encoding":{"x2":{"field":"x2"},"y2":{"field":"v2"}}},
{"data":{"name":"nav"},"mark":{"type":"area","color":"#8f90bb","opacity":0.8,"line":{"color":"#25256f","strokeWidth":1}}},
{"data":{"values":[{"x":1403,"x2":1407,"v":9,"v2":29}]},"mark":{"type":"rect","color":"#6f8fe0"},"encoding":{"x2":{"field":"x2"},"y2":{"field":"v2"}}}
]},
{"encoding":{"y":{"field":"p","type":"quantitative","scale":{"type":"log","domain":[1.11047,1.19321],"nice":false,"zero":false},"axis":null}},"layer":[
{"data":{"name":"channel"},"mark":{"type":"area","color":"#a6c4ee","opacity":0.38},"encoding":{"y2":{"field":"p2"}}},
{"data":{"name":"candles"},"mark":{"type":"rule","color":"#555555","strokeWidth":1},"encoding":{"y":{"field":"l","type":"quantitative","scale":{"type":"log","domain":[1.11047,1.19321],"nice":false,"zero":false},"axis":null},"y2":{"field":"h"}}},
{"data":{"name":"candles"},"mark":{"type":"bar","size":3,"orient":"vertical","stroke":"#6c6c6c","strokeWidth":0.6},"encoding":{"y":{"field":"o","type":"quantitative","stack":null,"scale":{"type":"log","domain":[1.11047,1.19321],"nice":false,"zero":false},"axis":null},"y2":{"field":"c"},"color":{"condition":{"test":"datum.c>=datum.o","value":"#ffffff"},"value":"#b5382e"}}},
{"data":{"name":"ma"},"transform":[{"filter":"datum.s=='u'||datum.s=='l'"}],"mark":{"type":"line","color":"#6f6f6f","strokeWidth":0.9,"interpolate":"monotone"},"encoding":{"detail":{"field":"s"}}},
{"data":{"name":"ma"},"transform":[{"filter":"datum.s=='k'"}],"mark":{"type":"line","color":"#111111","strokeWidth":1,"interpolate":"monotone"}},
{"data":{"name":"ma"},"transform":[{"filter":"datum.s=='y'"}],"mark":{"type":"line","color":"#f6c95c","strokeWidth":3,"interpolate":"monotone"}},
{"data":{"name":"ma"},"transform":[{"filter":"datum.s=='b'"}],"mark":{"type":"line","color":"#1212d6","strokeWidth":2.6,"interpolate":"monotone"}},
{"data":{"name":"ma"},"transform":[{"filter":"datum.s=='m'"}],"mark":{"type":"line","color":"#7c0f86","strokeWidth":2.6,"interpolate":"monotone"}},
{"data":{"name":"profile"},"transform":[{"filter":"datum.z=='a'"}],"mark":{"type":"rule","color":"#161616","strokeWidth":2.6},"encoding":{"x2":{"field":"n"}}},
{"data":{"name":"profile"},"transform":[{"filter":"datum.z=='b'"}],"mark":{"type":"rule","color":"#5b4c18","strokeWidth":2.6},"encoding":{"x2":{"field":"n"}}},
{"data":{"name":"bands"},"mark":{"type":"rect","color":"#f0b840","opacity":0.42},"encoding":{"x2":{"field":"x2"},"y2":{"field":"p2"}}},
{"data":{"name":"trend"},"transform":[{"filter":"datum.s=='g5'"}],"mark":{"type":"line","color":"#a8946a","strokeWidth":3,"opacity":0.85}},
{"data":{"name":"levels"},"transform":[{"filter":"datum.k=='fib'"}],"mark":{"type":"rule","color":"#1b8a2b","strokeWidth":1.2},"encoding":{"x2":{"field":"x2"}}},
{"data":{"name":"levels"},"transform":[{"filter":"datum.k=='blue'"}],"mark":{"type":"rule","color":"#1717b5","strokeWidth":1.2},"encoding":{"x2":{"field":"x2"}}},
{"data":{"name":"levels"},"transform":[{"filter":"datum.k=='navy'"}],"mark":{"type":"rule","color":"#12408e","strokeWidth":2},"encoding":{"x2":{"field":"x2"}}},
{"data":{"name":"levels"},"transform":[{"filter":"datum.k=='black'"}],"mark":{"type":"rule","color":"#111111","strokeWidth":1.2},"encoding":{"x2":{"field":"x2"}}},
{"data":{"name":"levels"},"transform":[{"filter":"datum.k=='violet'"}],"mark":{"type":"rule","color":"#8a64a8","strokeWidth":1.2},"encoding":{"x2":{"field":"x2"}}},
{"data":{"name":"levels"},"transform":[{"filter":"datum.k=='orange'"}],"mark":{"type":"rule","color":"#f0743a","strokeWidth":1.2},"encoding":{"x2":{"field":"x2"}}},
{"data":{"name":"levels"},"transform":[{"filter":"datum.k=='magenta'"}],"mark":{"type":"rule","color":"#a0127c","strokeWidth":2},"encoding":{"x2":{"field":"x2"}}},
{"data":{"name":"levels"},"transform":[{"filter":"datum.k=='redthick'"}],"mark":{"type":"rule","color":"#c81a1a","strokeWidth":4.5},"encoding":{"x2":{"field":"x2"}}},
{"data":{"name":"levels"},"transform":[{"filter":"datum.k=='reddash'"}],"mark":{"type":"rule","color":"#e2303f","strokeWidth":2.5,"strokeDash":[11,7]},"encoding":{"x2":{"field":"x2"}}},
{"data":{"name":"levels"},"transform":[{"filter":"datum.k=='purpledash'"}],"mark":{"type":"rule","color":"#6c1184","strokeWidth":3.5,"strokeDash":[12,8]},"encoding":{"x2":{"field":"x2"}}},
{"data":{"name":"trend"},"transform":[{"filter":"datum.s=='g1'"}],"mark":{"type":"line","color":"#808084","strokeWidth":5}},
{"data":{"name":"trend"},"transform":[{"filter":"datum.s=='g2'"}],"mark":{"type":"line","color":"#808084","strokeWidth":2.5}},
{"data":{"name":"trend"},"transform":[{"filter":"datum.s=='g3'"}],"mark":{"type":"line","color":"#808084","strokeWidth":3.5}},
{"data":{"name":"trend"},"transform":[{"filter":"datum.s=='g4'"}],"mark":{"type":"line","color":"#808084","strokeWidth":2.5}},
{"data":{"name":"chlines"},"mark":{"type":"line","color":"#0c1570","strokeWidth":2.5},"encoding":{"detail":{"field":"s"}}},
{"data":{"values":[{"x":1278,"p":1.11047,"p2":1.19321}]},"mark":{"type":"rule","color":"#000000","strokeWidth":1.2},"encoding":{"y2":{"field":"p2"}}},
{"data":{"values":[{"x":66,"x2":107,"p":1.11489,"p2":1.11126}]},"mark":{"type":"rect","color":"#74818d","opacity":0.75,"cornerRadius":7},"encoding":{"x2":{"field":"x2"},"y2":{"field":"p2"}}},
{"data":{"values":[{"x":86,"p":1.11295,"t":"on"}]},"mark":{"type":"text","color":"#dfe3ea","fontSize":30,"fontWeight":"bold","font":"Liberation Sans","align":"center","baseline":"middle"},"encoding":{"text":{"field":"t"}}},
{"data":{"values":[{"x":108,"p":1.11273,"t":"LINE"}]},"mark":{"type":"text","color":"#88939d","fontSize":20,"fontWeight":"bold","font":"Liberation Sans","align":"left","baseline":"middle"},"encoding":{"text":{"field":"t"}}},
{"data":{"values":[{"x":108,"p":1.11397,"t":"Tradesignal®"}]},"mark":{"type":"text","color":"#88939d","fontSize":9,"fontWeight":"bold","font":"Liberation Sans","align":"left","baseline":"middle"},"encoding":{"text":{"field":"t"}}},
{"data":{"values":[{"x":61,"x2":695,"p":1.19309,"p2":1.19103}]},"mark":{"type":"rect","color":"#ffffff","opacity":0.68},"encoding":{"x2":{"field":"x2"},"y2":{"field":"p2"}}},
{"data":{"name":"tags"},"mark":{"type":"rect","color":"#e6e6e6","stroke":"#555555","strokeWidth":1,"clip":false},"encoding":{"x2":{"field":"x2"},"y2":{"field":"p2"}}},
{"data":{"values":[{"x":1523,"p":1.15238}]},"mark":{"type":"point","shape":"triangle-left","filled":true,"color":"#e6e6e6","stroke":"#555555","strokeWidth":0.8,"size":40}},
{"data":{"values":[{"x":56,"p":1.15238}]},"mark":{"type":"point","shape":"triangle-right","filled":true,"color":"#e6e6e6","stroke":"#555555","strokeWidth":0.8,"size":40}},
{"data":{"values":[{"x":27,"p":1.15238,"t":"1,15238"},{"x":1550,"p":1.15238,"t":"1,15238"}]},"mark":{"type":"text","color":"#333333","fontSize":11.5,"align":"center","baseline":"middle"},"encoding":{"text":{"field":"t"}}},
{"data":{"values":[{"x":1514,"x2":1519,"p":1.11085,"p2":1.11047}]},"mark":{"type":"rect","color":"#ffffff","stroke":"#555555","strokeWidth":0.7},"encoding":{"x2":{"field":"x2"},"y2":{"field":"p2"}}},
{"data":{"name":"notes"},"transform":[{"filter":"datum.k=='fib'"}],"mark":{"type":"text","color":"#2b8c44","align":"right","baseline":"middle","fontSize":11},"encoding":{"text":{"field":"t"}}},
{"data":{"name":"notes"},"transform":[{"filter":"datum.k=='hdr'"}],"mark":{"type":"text","color":"#222222","align":"left","baseline":"middle","fontSize":10.5},"encoding":{"text":{"field":"t"}}},
{"data":{"name":"notes"},"transform":[{"filter":"datum.k=='dark'"}],"mark":{"type":"text","color":"#222222","align":"left","baseline":"middle","fontSize":11},"encoding":{"text":{"field":"t"}}},
{"data":{"name":"notes"},"transform":[{"filter":"datum.k=='navy'"}],"mark":{"type":"text","color":"#14148c","align":"left","baseline":"middle","fontSize":11},"encoding":{"text":{"field":"t"}}},
{"data":{"name":"notes"},"transform":[{"filter":"datum.k=='faint'"}],"mark":{"type":"text","color":"#8a8a8a","opacity":0.7,"align":"left","baseline":"middle","fontSize":11},"encoding":{"text":{"field":"t"}}},
{"data":{"name":"notes"},"transform":[{"filter":"datum.k=='orange'"}],"mark":{"type":"text","color":"#e8642c","align":"left","baseline":"middle","fontSize":11},"encoding":{"text":{"field":"t"}}},
{"data":{"name":"notes"},"transform":[{"filter":"datum.k=='red'"}],"mark":{"type":"text","color":"#d8202c","align":"left","baseline":"middle","fontSize":11},"encoding":{"text":{"field":"t"}}},
{"data":{"name":"notes"},"transform":[{"filter":"datum.k=='brown'"}],"mark":{"type":"text","color":"#a83030","align":"left","baseline":"middle","fontSize":11},"encoding":{"text":{"field":"t"}}},
{"data":{"name":"notes"},"transform":[{"filter":"datum.k=='purple'"}],"mark":{"type":"text","color":"#6a2080","align":"left","baseline":"middle","fontSize":11},"encoding":{"text":{"field":"t"}}},
{"data":{"name":"notes"},"transform":[{"filter":"datum.k=='teal'"}],"mark":{"type":"text","color":"#5c8fa2","align":"left","baseline":"middle","fontSize":11},"encoding":{"text":{"field":"t"}}},
{"data":{"name":"notes"},"transform":[{"filter":"datum.k=='hgreen'"}],"mark":{"type":"text","color":"#10a82c","align":"left","baseline":"middle","fontSize":11},"encoding":{"text":{"field":"t"}}},
{"data":{"name":"notes"},"transform":[{"filter":"datum.k=='hred'"}],"mark":{"type":"text","color":"#e01020","align":"left","baseline":"middle","fontSize":11},"encoding":{"text":{"field":"t"}}}
]},
{"data":{"values":[{"x":58,"p":1.15}]},"mark":{"type":"rule","opacity":0},"encoding":{"y":{"field":"p","type":"quantitative","scale":{"type":"log","domain":[1.11047,1.19321],"nice":false,"zero":false},"axis":{"orient":"left","grid":false,"labels":false,"tickSize":3,"domain":false,"values":[1.111,1.112,1.113,1.114,1.116,1.117,1.118,1.119,1.121,1.122,1.123,1.124,1.126,1.127,1.128,1.129,1.131,1.132,1.133,1.134,1.136,1.137,1.138,1.139,1.141,1.142,1.143,1.144,1.146,1.147,1.148,1.149,1.151,1.152,1.153,1.154,1.156,1.157,1.158,1.159,1.161,1.162,1.163,1.164,1.166,1.167,1.168,1.169,1.171,1.172,1.173,1.174,1.176,1.177,1.178,1.179,1.181,1.182,1.183,1.184,1.186,1.187,1.188,1.189,1.191,1.192,1.193]}}}},
{"data":{"values":[{"x":58,"p":1.15}]},"mark":{"type":"rule","opacity":0},"encoding":{"y":{"field":"p","type":"quantitative","scale":{"type":"log","domain":[1.11047,1.19321],"nice":false,"zero":false},"axis":{"orient":"right","grid":false,"values":[1.115,1.12,1.125,1.13,1.135,1.14,1.145,1.15,1.155,1.16,1.165,1.17,1.175,1.18,1.185,1.19],"labelExpr":"replace(format(datum.value,'.5f'),'.',',')","tickSize":6,"labelPadding":3,"labelOverlap":false,"domain":false}}}},
{"data":{"values":[{"x":58,"p":1.15}]},"mark":{"type":"rule","opacity":0},"encoding":{"y":{"field":"p","type":"quantitative","scale":{"type":"log","domain":[1.11047,1.19321],"nice":false,"zero":false},"axis":{"orient":"right","grid":false,"labels":false,"tickSize":3,"domain":false,"values":[1.111,1.112,1.113,1.114,1.116,1.117,1.118,1.119,1.121,1.122,1.123,1.124,1.126,1.127,1.128,1.129,1.131,1.132,1.133,1.134,1.136,1.137,1.138,1.139,1.141,1.142,1.143,1.144,1.146,1.147,1.148,1.149,1.151,1.152,1.153,1.154,1.156,1.157,1.158,1.159,1.161,1.162,1.163,1.164,1.166,1.167,1.168,1.169,1.171,1.172,1.173,1.174,1.176,1.177,1.178,1.179,1.181,1.182,1.183,1.184,1.186,1.187,1.188,1.189,1.191,1.192,1.193]}}}}
]}
